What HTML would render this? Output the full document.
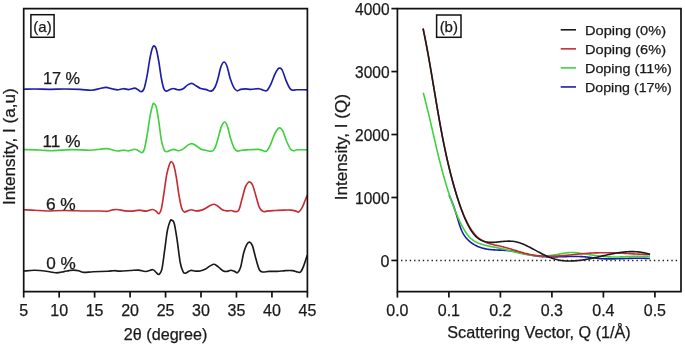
<!DOCTYPE html><html><head><meta charset="utf-8"><style>html,body{margin:0;padding:0;background:#fff;}svg{display:block;font-family:"Liberation Sans",sans-serif;will-change:transform;} text{stroke:#1a1a1a;stroke-width:0.25px;}</style></head><body>
<svg width="685" height="344" viewBox="0 0 685 344">
<rect width="685" height="344" fill="#fff"/>
<path d="M24.00,89.20 C25.83,89.17 30.67,88.98 35.00,89.00 C39.33,89.02 45.00,89.30 50.00,89.30 C55.00,89.30 60.00,88.98 65.00,89.00 C70.00,89.02 75.58,89.20 80.00,89.40 C84.42,89.60 88.17,90.35 91.50,90.20 C94.83,90.05 97.58,88.97 100.00,88.50 C102.42,88.03 104.00,87.35 106.00,87.40 C108.00,87.45 110.07,88.40 112.00,88.80 C113.93,89.20 115.73,89.82 117.60,89.80 C119.47,89.78 121.32,88.73 123.20,88.70 C125.08,88.67 127.00,89.70 128.90,89.60 C130.80,89.50 133.08,88.07 134.60,88.10 C136.12,88.13 136.90,89.20 138.00,89.80 C139.10,90.40 140.20,91.85 141.20,91.70 C142.20,91.55 143.05,91.42 144.00,88.90 C144.95,86.38 145.95,81.48 146.90,76.60 C147.85,71.72 148.85,64.17 149.70,59.60 C150.55,55.03 151.30,51.50 152.00,49.20 C152.70,46.90 153.18,45.80 153.90,45.80 C154.62,45.80 155.48,46.58 156.30,49.20 C157.12,51.82 157.95,56.62 158.80,61.50 C159.65,66.38 160.55,73.93 161.40,78.50 C162.25,83.07 163.08,86.80 163.90,88.90 C164.72,91.00 165.37,90.95 166.30,91.10 C167.23,91.25 168.33,90.23 169.50,89.80 C170.67,89.37 171.88,88.50 173.30,88.50 C174.72,88.50 176.42,89.73 178.00,89.80 C179.58,89.87 181.22,89.68 182.80,88.90 C184.38,88.12 186.02,86.02 187.50,85.10 C188.98,84.18 190.28,83.30 191.70,83.40 C193.12,83.50 194.50,84.85 196.00,85.70 C197.50,86.55 199.08,87.88 200.70,88.50 C202.32,89.12 203.93,88.97 205.70,89.40 C207.47,89.83 209.73,91.50 211.30,91.10 C212.87,90.70 213.98,89.10 215.10,87.00 C216.22,84.90 217.05,81.82 218.00,78.50 C218.95,75.18 219.80,69.85 220.80,67.10 C221.80,64.35 222.97,62.15 224.00,62.00 C225.03,61.85 225.97,63.45 227.00,66.20 C228.03,68.95 229.03,74.88 230.20,78.50 C231.37,82.12 232.83,85.85 234.00,87.90 C235.17,89.95 236.10,90.55 237.20,90.80 C238.30,91.05 239.23,89.72 240.60,89.40 C241.97,89.08 243.67,88.90 245.40,88.90 C247.13,88.90 248.80,89.43 251.00,89.40 C253.20,89.37 256.55,88.57 258.60,88.70 C260.65,88.83 261.88,89.92 263.30,90.20 C264.72,90.48 265.83,91.42 267.10,90.40 C268.37,89.38 269.63,86.72 270.90,84.10 C272.17,81.48 273.53,77.22 274.70,74.70 C275.87,72.18 277.05,70.10 277.90,69.00 C278.75,67.90 279.08,67.93 279.80,68.10 C280.52,68.27 281.17,67.95 282.20,70.00 C283.23,72.05 284.73,77.35 286.00,80.40 C287.27,83.45 288.70,86.67 289.80,88.30 C290.90,89.93 291.50,89.95 292.60,90.20 C293.70,90.45 294.08,89.87 296.40,89.80 C298.72,89.73 304.82,89.80 306.50,89.80" fill="none" stroke="#1c1ca8" stroke-width="1.65" stroke-linejoin="round" stroke-linecap="round"/>
<path d="M24.00,149.60 C26.67,149.67 35.32,149.82 40.00,150.00 C44.68,150.18 46.93,150.77 52.10,150.70 C57.27,150.63 64.68,149.68 71.00,149.60 C77.32,149.52 85.17,150.27 90.00,150.20 C94.83,150.13 97.18,149.47 100.00,149.20 C102.82,148.93 104.90,148.50 106.90,148.60 C108.90,148.70 110.22,149.40 112.00,149.80 C113.78,150.20 115.73,150.93 117.60,151.00 C119.47,151.07 121.32,150.23 123.20,150.20 C125.08,150.17 127.00,150.95 128.90,150.80 C130.80,150.65 133.08,149.37 134.60,149.30 C136.12,149.23 136.80,149.83 138.00,150.40 C139.20,150.97 140.73,152.95 141.80,152.70 C142.87,152.45 143.50,151.90 144.40,148.90 C145.30,145.90 146.25,140.22 147.20,134.70 C148.15,129.18 149.22,120.68 150.10,115.80 C150.98,110.92 151.85,107.45 152.50,105.40 C153.15,103.35 153.37,103.18 154.00,103.50 C154.63,103.82 155.50,104.30 156.30,107.30 C157.10,110.30 157.95,115.98 158.80,121.50 C159.65,127.02 160.48,135.62 161.40,140.40 C162.32,145.18 163.42,148.32 164.30,150.20 C165.18,152.08 165.73,151.67 166.70,151.70 C167.67,151.73 168.90,150.78 170.10,150.40 C171.30,150.02 172.52,149.33 173.90,149.40 C175.28,149.47 176.83,150.88 178.40,150.80 C179.97,150.72 181.72,149.85 183.30,148.90 C184.88,147.95 186.47,145.98 187.90,145.10 C189.33,144.22 190.55,143.50 191.90,143.60 C193.25,143.70 194.47,144.75 196.00,145.70 C197.53,146.65 199.48,148.55 201.10,149.30 C202.72,150.05 203.93,149.87 205.70,150.20 C207.47,150.53 210.13,151.73 211.70,151.30 C213.27,150.87 214.05,149.73 215.10,147.60 C216.15,145.47 216.98,141.92 218.00,138.50 C219.02,135.08 220.10,129.85 221.20,127.10 C222.30,124.35 223.57,122.15 224.60,122.00 C225.63,121.85 226.40,123.45 227.40,126.20 C228.40,128.95 229.43,134.78 230.60,138.50 C231.77,142.22 233.20,146.40 234.40,148.50 C235.60,150.60 236.60,150.82 237.80,151.10 C239.00,151.38 239.72,150.42 241.60,150.20 C243.48,149.98 246.27,149.93 249.10,149.80 C251.93,149.67 256.23,149.23 258.60,149.40 C260.97,149.57 261.98,150.52 263.30,150.80 C264.62,151.08 265.33,152.05 266.50,151.10 C267.67,150.15 268.93,147.98 270.30,145.10 C271.67,142.22 273.40,136.55 274.70,133.80 C276.00,131.05 277.17,129.55 278.10,128.60 C279.03,127.65 279.52,127.72 280.30,128.10 C281.08,128.48 281.75,128.70 282.80,130.90 C283.85,133.10 285.33,138.30 286.60,141.30 C287.87,144.30 289.23,147.32 290.40,148.90 C291.57,150.48 292.43,150.65 293.60,150.80 C294.77,150.95 295.25,149.97 297.40,149.80 C299.55,149.63 304.98,149.80 306.50,149.80" fill="none" stroke="#3fd13f" stroke-width="1.65" stroke-linejoin="round" stroke-linecap="round"/>
<path d="M24.00,209.80 C25.83,209.87 31.28,210.00 35.00,210.20 C38.72,210.40 41.50,210.95 46.30,211.00 C51.10,211.05 57.23,210.50 63.80,210.50 C70.37,210.50 79.67,210.92 85.70,211.00 C91.73,211.08 96.35,210.95 100.00,211.00 C103.65,211.05 105.60,211.47 107.60,211.30 C109.60,211.13 110.43,210.30 112.00,210.00 C113.57,209.70 114.82,209.35 117.00,209.50 C119.18,209.65 122.48,210.63 125.10,210.90 C127.72,211.17 130.33,211.23 132.70,211.10 C135.07,210.97 137.10,210.10 139.30,210.10 C141.50,210.10 143.70,211.20 145.90,211.10 C148.10,211.00 150.77,209.45 152.50,209.50 C154.23,209.55 155.25,210.70 156.30,211.40 C157.35,212.10 157.95,214.17 158.80,213.70 C159.65,213.23 160.55,211.97 161.40,208.60 C162.25,205.23 163.02,199.17 163.90,193.50 C164.78,187.83 165.77,179.48 166.70,174.60 C167.63,169.72 168.72,166.35 169.50,164.20 C170.28,162.05 170.70,161.55 171.40,161.70 C172.10,161.85 172.85,162.32 173.70,165.10 C174.55,167.88 175.62,173.35 176.50,178.40 C177.38,183.45 178.12,190.37 179.00,195.40 C179.88,200.43 180.92,205.83 181.80,208.60 C182.68,211.37 183.35,211.62 184.30,212.00 C185.25,212.38 186.33,211.28 187.50,210.90 C188.67,210.52 189.88,209.70 191.30,209.70 C192.72,209.70 194.27,210.83 196.00,210.90 C197.73,210.97 200.08,210.55 201.70,210.10 C203.32,209.65 204.25,208.98 205.70,208.20 C207.15,207.42 208.98,206.05 210.40,205.40 C211.82,204.75 212.93,204.15 214.20,204.30 C215.47,204.45 216.58,205.33 218.00,206.30 C219.42,207.27 221.13,209.33 222.70,210.10 C224.27,210.87 225.98,210.83 227.40,210.90 C228.82,210.97 229.93,210.38 231.20,210.50 C232.47,210.62 233.73,211.67 235.00,211.60 C236.27,211.53 237.63,212.18 238.80,210.10 C239.97,208.02 240.90,202.97 242.00,199.10 C243.10,195.23 244.37,189.67 245.40,186.90 C246.43,184.13 247.42,183.30 248.20,182.50 C248.98,181.70 249.37,181.68 250.10,182.10 C250.83,182.52 251.65,182.78 252.60,185.00 C253.55,187.22 254.65,191.62 255.80,195.40 C256.95,199.18 258.25,205.00 259.50,207.70 C260.75,210.40 261.87,211.07 263.30,211.60 C264.73,212.13 266.05,211.08 268.10,210.90 C270.15,210.72 273.08,210.63 275.60,210.50 C278.12,210.37 280.68,210.17 283.20,210.10 C285.72,210.03 288.65,209.97 290.70,210.10 C292.75,210.23 294.17,210.58 295.50,210.90 C296.83,211.22 297.60,212.53 298.70,212.00 C299.80,211.47 301.07,209.53 302.10,207.70 C303.13,205.87 304.05,203.05 304.90,201.00 C305.75,198.95 306.82,196.33 307.20,195.40" fill="none" stroke="#c62d33" stroke-width="1.65" stroke-linejoin="round" stroke-linecap="round"/>
<path d="M24.00,271.00 C25.77,270.88 30.88,270.25 34.60,270.30 C38.32,270.35 42.77,270.88 46.30,271.30 C49.83,271.72 52.85,272.75 55.80,272.80 C58.75,272.85 61.80,271.97 64.00,271.60 C66.20,271.23 67.42,270.85 69.00,270.60 C70.58,270.35 71.92,270.08 73.50,270.10 C75.08,270.12 76.72,270.32 78.50,270.70 C80.28,271.08 81.78,272.23 84.20,272.40 C86.62,272.57 89.10,271.88 93.00,271.70 C96.90,271.52 104.10,271.47 107.60,271.30 C111.10,271.13 111.90,270.73 114.00,270.70 C116.10,270.67 117.47,271.13 120.20,271.10 C122.93,271.07 127.35,270.67 130.40,270.50 C133.45,270.33 135.97,269.93 138.50,270.10 C141.03,270.27 143.22,271.57 145.60,271.50 C147.98,271.43 151.10,269.60 152.80,269.70 C154.50,269.80 154.78,271.32 155.80,272.10 C156.82,272.88 157.88,274.90 158.90,274.40 C159.92,273.90 160.95,273.05 161.90,269.10 C162.85,265.15 163.68,257.15 164.60,250.70 C165.52,244.25 166.48,235.32 167.40,230.40 C168.32,225.48 169.38,222.90 170.10,221.20 C170.82,219.50 171.02,219.87 171.70,220.20 C172.38,220.53 173.28,219.82 174.20,223.20 C175.12,226.58 176.18,233.87 177.20,240.50 C178.22,247.13 179.28,257.73 180.30,263.00 C181.32,268.27 182.38,270.42 183.30,272.10 C184.22,273.78 184.62,273.37 185.80,273.10 C186.98,272.83 188.78,270.83 190.40,270.50 C192.02,270.17 193.90,271.02 195.50,271.10 C197.10,271.18 198.40,271.30 200.00,271.00 C201.60,270.70 203.40,270.15 205.10,269.30 C206.80,268.45 208.68,266.73 210.20,265.90 C211.72,265.07 212.85,264.13 214.20,264.30 C215.55,264.47 216.77,265.78 218.30,266.90 C219.83,268.02 221.88,270.25 223.40,271.00 C224.92,271.75 226.15,271.53 227.40,271.40 C228.65,271.27 229.70,270.20 230.90,270.20 C232.10,270.20 233.48,271.00 234.60,271.40 C235.72,271.80 236.58,273.35 237.60,272.60 C238.62,271.85 239.68,270.22 240.70,266.90 C241.72,263.58 242.70,256.42 243.70,252.70 C244.70,248.98 245.75,246.37 246.70,244.60 C247.65,242.83 248.45,241.93 249.40,242.10 C250.35,242.27 251.32,242.82 252.40,245.60 C253.48,248.38 254.75,254.80 255.90,258.80 C257.05,262.80 258.18,267.40 259.30,269.60 C260.42,271.80 260.97,271.70 262.60,272.00 C264.23,272.30 266.67,271.50 269.10,271.40 C271.53,271.30 274.48,271.53 277.20,271.40 C279.92,271.27 282.85,270.73 285.40,270.60 C287.95,270.47 290.47,270.37 292.50,270.60 C294.53,270.83 296.25,271.77 297.60,272.00 C298.95,272.23 299.58,273.02 300.60,272.00 C301.62,270.98 302.62,268.62 303.70,265.90 C304.78,263.18 306.53,257.40 307.10,255.70" fill="none" stroke="#1a1a1a" stroke-width="1.65" stroke-linejoin="round" stroke-linecap="round"/>
<path d="M23.70,8.70 H307.40 V291.60 H23.70 Z" fill="none" stroke="#111" stroke-width="1.70"/>
<line x1="23.70" y1="291.60" x2="23.70" y2="297.60" stroke="#111" stroke-width="1.70"/>
<text x="23.70" y="315.60" font-size="16.00" text-anchor="middle" fill="#1a1a1a" >5</text>
<line x1="59.16" y1="291.60" x2="59.16" y2="297.60" stroke="#111" stroke-width="1.70"/>
<text x="59.16" y="315.60" font-size="16.00" text-anchor="middle" fill="#1a1a1a" >10</text>
<line x1="94.62" y1="291.60" x2="94.62" y2="297.60" stroke="#111" stroke-width="1.70"/>
<text x="94.62" y="315.60" font-size="16.00" text-anchor="middle" fill="#1a1a1a" >15</text>
<line x1="130.09" y1="291.60" x2="130.09" y2="297.60" stroke="#111" stroke-width="1.70"/>
<text x="130.09" y="315.60" font-size="16.00" text-anchor="middle" fill="#1a1a1a" >20</text>
<line x1="165.55" y1="291.60" x2="165.55" y2="297.60" stroke="#111" stroke-width="1.70"/>
<text x="165.55" y="315.60" font-size="16.00" text-anchor="middle" fill="#1a1a1a" >25</text>
<line x1="201.01" y1="291.60" x2="201.01" y2="297.60" stroke="#111" stroke-width="1.70"/>
<text x="201.01" y="315.60" font-size="16.00" text-anchor="middle" fill="#1a1a1a" >30</text>
<line x1="236.47" y1="291.60" x2="236.47" y2="297.60" stroke="#111" stroke-width="1.70"/>
<text x="236.47" y="315.60" font-size="16.00" text-anchor="middle" fill="#1a1a1a" >35</text>
<line x1="271.94" y1="291.60" x2="271.94" y2="297.60" stroke="#111" stroke-width="1.70"/>
<text x="271.94" y="315.60" font-size="16.00" text-anchor="middle" fill="#1a1a1a" >40</text>
<line x1="307.40" y1="291.60" x2="307.40" y2="297.60" stroke="#111" stroke-width="1.70"/>
<text x="307.40" y="315.60" font-size="16.00" text-anchor="middle" fill="#1a1a1a" >45</text>
<rect x="30.90" y="14.70" width="23.20" height="22.60" fill="none" stroke="#111" stroke-width="1.50"/>
<text x="42.50" y="31.60" font-size="15.00" text-anchor="middle" fill="#1a1a1a" >(a)</text>
<text x="42.90" y="83.60" font-size="15.80" text-anchor="start" fill="#1a1a1a" textLength="37.20" lengthAdjust="spacingAndGlyphs" >17 %</text>
<text x="42.60" y="147.40" font-size="15.80" text-anchor="start" fill="#1a1a1a" textLength="37.80" lengthAdjust="spacingAndGlyphs" >11 %</text>
<text x="45.90" y="209.80" font-size="15.80" text-anchor="start" fill="#1a1a1a" textLength="29.90" lengthAdjust="spacingAndGlyphs" >6 %</text>
<text x="46.20" y="268.60" font-size="15.80" text-anchor="start" fill="#1a1a1a" textLength="29.60" lengthAdjust="spacingAndGlyphs" >0 %</text>
<text x="165.60" y="339.60" font-size="16.00" text-anchor="middle" fill="#1a1a1a" textLength="83.50" lengthAdjust="spacingAndGlyphs" >2θ (degree)</text>
<text x="0" y="0" font-size="16.50" text-anchor="middle" fill="#1a1a1a" textLength="116.70" lengthAdjust="spacingAndGlyphs" transform="translate(15.40,146.60) rotate(-90)">Intensity, I (a,u)</text>
<line x1="401.00" y1="260.45" x2="680.00" y2="260.45" stroke="#222" stroke-width="1.50" stroke-dasharray="1.4 2.96"/>
<path d="M449.06,195.10 L449.31,195.63 L449.56,196.17 L449.80,196.70 L450.04,197.23 L450.28,197.77 L450.51,198.30 L450.74,198.84 L450.97,199.37 L451.19,199.91 L451.41,200.44 L451.63,200.98 L451.85,201.51 L452.06,202.05 L452.27,202.59 L452.48,203.13 L452.69,203.67 L452.89,204.21 L453.10,204.75 L453.30,205.29 L453.49,205.84 L453.69,206.38 L453.88,206.93 L454.07,207.47 L454.26,208.02 L454.45,208.57 L454.64,209.12 L454.83,209.67 L455.01,210.23 L455.19,210.78 L455.37,211.33 L455.55,211.89 L455.73,212.45 L455.91,213.01 L456.09,213.57 L456.27,214.13 L456.44,214.70 L456.62,215.26 L456.79,215.83 L456.96,216.40 L457.14,216.97 L457.31,217.54 L457.48,218.12 L457.65,218.70 L457.83,219.27 L458.00,219.85 L458.17,220.44 L458.34,221.02 L458.52,221.60 L458.69,222.19 L458.87,222.77 L459.05,223.35 L459.23,223.94 L459.42,224.52 L459.60,225.10 L459.79,225.68 L459.99,226.25 L460.19,226.83 L460.39,227.40 L460.60,227.97 L460.82,228.53 L461.04,229.09 L461.27,229.65 L461.50,230.20 L461.74,230.74 L461.99,231.28 L462.24,231.82 L462.50,232.35 L462.77,232.87 L463.05,233.39 L463.34,233.89 L463.64,234.40 L463.94,234.89 L464.26,235.37 L464.58,235.85 L464.92,236.32 L465.26,236.78 L465.61,237.24 L465.97,237.68 L466.34,238.12 L466.72,238.55 L467.11,238.97 L467.50,239.39 L467.90,239.79 L468.31,240.19 L468.73,240.58 L469.15,240.96 L469.58,241.33 L470.02,241.70 L470.46,242.06 L470.91,242.41 L471.37,242.75 L471.83,243.08 L472.30,243.41 L472.78,243.72 L473.26,244.03 L473.75,244.33 L474.24,244.63 L474.74,244.91 L475.24,245.19 L475.75,245.45 L476.26,245.71 L476.78,245.97 L477.30,246.21 L477.83,246.45 L478.36,246.67 L478.89,246.89 L479.43,247.10 L479.97,247.30 L480.52,247.50 L481.07,247.68 L481.62,247.86 L482.17,248.03 L482.73,248.19 L483.29,248.34 L483.85,248.49 L484.42,248.62 L484.99,248.75 L485.56,248.87 L486.13,248.98 L486.70,249.08 L487.27,249.18 L487.85,249.27 L488.43,249.35 L489.01,249.43 L489.59,249.50 L490.17,249.56 L490.75,249.62 L491.34,249.68 L491.92,249.73 L492.51,249.77 L493.10,249.82 L493.69,249.85 L494.28,249.89 L494.87,249.92 L495.46,249.95 L496.05,249.98 L496.64,250.01 L497.24,250.03 L497.83,250.05 L498.42,250.08 L499.02,250.10 L499.61,250.12 L500.21,250.14 L500.80,250.16 L501.40,250.19 L501.99,250.21 L502.58,250.24 L503.18,250.27 L503.77,250.30 L504.36,250.33 L504.95,250.37 L505.55,250.41 L506.14,250.45 L506.73,250.50 L507.32,250.55 L507.90,250.61 L508.49,250.67 L509.08,250.73 L509.66,250.81 L510.25,250.88 L510.83,250.96 L511.41,251.05 L512.00,251.14 L512.58,251.23 L513.16,251.33 L513.74,251.43 L514.32,251.53 L514.89,251.64 L515.47,251.75 L516.05,251.86 L516.63,251.98 L517.20,252.10 L517.78,252.22 L518.35,252.34 L518.93,252.46 L519.50,252.59 L520.07,252.71 L520.65,252.84 L521.22,252.97 L521.79,253.10 L522.36,253.23 L522.94,253.36 L523.51,253.49 L524.08,253.62 L524.65,253.75 L525.22,253.88 L525.80,254.01 L526.37,254.14 L526.94,254.26 L527.51,254.39 L528.08,254.52 L528.65,254.64 L529.23,254.76 L529.80,254.88 L530.37,254.99 L530.94,255.11 L531.52,255.22 L532.09,255.33 L532.66,255.43 L533.24,255.54 L533.81,255.64 L534.39,255.73 L534.96,255.82 L535.54,255.91 L536.12,255.99 L536.69,256.07 L537.27,256.14 L537.85,256.21 L538.43,256.28 L539.01,256.34 L539.59,256.40 L540.17,256.46 L540.75,256.51 L541.33,256.56 L541.91,256.60 L542.49,256.64 L543.08,256.68 L543.66,256.71 L544.24,256.74 L544.83,256.77 L545.41,256.80 L546.00,256.82 L546.58,256.84 L547.17,256.86 L547.75,256.87 L548.34,256.89 L548.92,256.90 L549.51,256.90 L550.10,256.91 L550.68,256.91 L551.27,256.92 L551.86,256.92 L552.45,256.91 L553.04,256.91 L553.62,256.91 L554.21,256.90 L554.80,256.89 L555.39,256.88 L555.98,256.87 L556.57,256.86 L557.16,256.85 L557.75,256.84 L558.34,256.82 L558.93,256.81 L559.52,256.79 L560.11,256.77 L560.70,256.76 L561.29,256.74 L561.88,256.72 L562.47,256.71 L563.06,256.69 L563.65,256.67 L564.24,256.65 L564.83,256.64 L565.42,256.62 L566.02,256.60 L566.61,256.59 L567.20,256.57 L567.79,256.56 L568.38,256.54 L568.97,256.53 L569.56,256.52 L570.15,256.51 L570.74,256.50 L571.33,256.49 L571.92,256.48 L572.51,256.47 L573.10,256.47 L573.69,256.47 L574.28,256.46 L574.87,256.46 L575.45,256.47 L576.04,256.47 L576.63,256.48 L577.22,256.49 L577.81,256.50 L578.40,256.51 L578.98,256.53 L579.57,256.54 L580.16,256.56 L580.74,256.59 L581.33,256.61 L581.92,256.64 L582.50,256.67 L583.09,256.71 L583.67,256.75 L584.26,256.79 L584.84,256.83 L585.42,256.88 L586.01,256.94 L586.59,256.99 L587.17,257.05 L587.76,257.11 L588.34,257.18 L588.92,257.25 L589.50,257.32 L590.08,257.39 L590.66,257.46 L591.24,257.54 L591.82,257.61 L592.40,257.69 L592.98,257.77 L593.56,257.84 L594.14,257.92 L594.73,258.00 L595.31,258.07 L595.89,258.14 L596.47,258.21 L597.05,258.28 L597.63,258.35 L598.21,258.41 L598.79,258.47 L599.38,258.53 L599.96,258.58 L600.54,258.63 L601.13,258.67 L601.71,258.71 L602.30,258.74 L602.88,258.78 L603.47,258.80 L604.05,258.83 L604.64,258.85 L605.23,258.86 L605.81,258.88 L606.40,258.89 L606.99,258.90 L607.57,258.90 L608.16,258.90 L608.75,258.91 L609.34,258.90 L609.93,258.90 L610.51,258.90 L611.10,258.89 L611.69,258.89 L612.28,258.88 L612.87,258.87 L613.46,258.86 L614.04,258.85 L614.63,258.84 L615.22,258.82 L615.81,258.81 L616.40,258.79 L616.99,258.78 L617.58,258.76 L618.17,258.75 L618.75,258.73 L619.34,258.71 L619.93,258.69 L620.52,258.67 L621.11,258.66 L621.70,258.64 L622.29,258.62 L622.88,258.60 L623.46,258.58 L624.05,258.56 L624.64,258.54 L625.23,258.52 L625.82,258.50 L626.41,258.48 L627.00,258.46 L627.58,258.45 L628.17,258.43 L628.76,258.41 L629.35,258.39 L629.94,258.38 L630.53,258.36 L631.11,258.35 L631.70,258.33 L632.29,258.32 L632.88,258.31 L633.47,258.30 L634.06,258.29 L634.64,258.28 L635.23,258.27 L635.82,258.26 L636.41,258.25 L636.99,258.25 L637.58,258.25 L638.17,258.24 L638.76,258.24 L639.34,258.24 L639.93,258.25 L640.52,258.25 L641.10,258.26 L641.69,258.26 L642.28,258.27 L642.86,258.28 L643.45,258.30 L644.04,258.31 L644.62,258.33 L645.21,258.35 L645.80,258.37 L646.38,258.39 L646.97,258.42 L647.55,258.45 L648.14,258.48 L648.72,258.51 L649.31,258.55 L649.89,258.58" fill="none" stroke="#1c1ca8" stroke-width="1.60" stroke-linejoin="round" stroke-linecap="butt"/>
<path d="M423.25,92.70 L423.47,93.51 L423.69,94.33 L423.91,95.15 L424.12,95.97 L424.34,96.79 L424.55,97.61 L424.76,98.43 L424.98,99.25 L425.19,100.07 L425.40,100.89 L425.61,101.71 L425.81,102.53 L426.02,103.35 L426.23,104.17 L426.43,104.99 L426.64,105.81 L426.84,106.64 L427.04,107.46 L427.24,108.28 L427.44,109.10 L427.64,109.92 L427.84,110.75 L428.04,111.57 L428.24,112.39 L428.44,113.22 L428.63,114.04 L428.83,114.86 L429.02,115.69 L429.22,116.51 L429.41,117.33 L429.61,118.16 L429.80,118.98 L429.99,119.80 L430.18,120.63 L430.38,121.45 L430.57,122.28 L430.76,123.10 L430.95,123.92 L431.14,124.75 L431.33,125.57 L431.52,126.40 L431.71,127.22 L431.90,128.05 L432.09,128.87 L432.28,129.69 L432.47,130.52 L432.66,131.34 L432.85,132.17 L433.04,132.99 L433.22,133.81 L433.41,134.64 L433.60,135.46 L433.79,136.29 L433.98,137.11 L434.17,137.93 L434.36,138.76 L434.55,139.58 L434.74,140.40 L434.93,141.23 L435.12,142.05 L435.31,142.87 L435.51,143.70 L435.70,144.52 L435.89,145.34 L436.08,146.16 L436.27,146.99 L436.47,147.81 L436.66,148.63 L436.86,149.45 L437.05,150.27 L437.25,151.10 L437.44,151.92 L437.64,152.74 L437.84,153.56 L438.04,154.38 L438.23,155.20 L438.43,156.02 L438.63,156.84 L438.84,157.66 L439.04,158.48 L439.24,159.30 L439.44,160.12 L439.65,160.93 L439.85,161.75 L440.06,162.57 L440.27,163.39 L440.48,164.21 L440.69,165.02 L440.90,165.84 L441.11,166.66 L441.32,167.47 L441.54,168.29 L441.75,169.10 L441.97,169.92 L442.18,170.73 L442.40,171.55 L442.62,172.36 L442.84,173.17 L443.07,173.99 L443.29,174.80 L443.52,175.61 L443.74,176.42 L443.97,177.23 L444.20,178.04 L444.43,178.85 L444.67,179.66 L444.90,180.47 L445.14,181.28 L445.37,182.09 L445.61,182.90 L445.85,183.71 L446.10,184.51 L446.34,185.32 L446.59,186.13 L446.83,186.93 L447.08,187.74 L447.33,188.54 L447.59,189.35 L447.84,190.15 L448.10,190.95 L448.36,191.76 L448.62,192.56 L448.88,193.36 L449.15,194.16 L449.41,194.96 L449.68,195.76 L449.95,196.56 L450.22,197.36 L450.50,198.15 L450.78,198.95 L451.06,199.75 L451.34,200.54 L451.62,201.34 L451.91,202.13 L452.20,202.93 L452.49,203.72 L452.78,204.51 L453.08,205.30 L453.37,206.10 L453.67,206.89 L453.98,207.68 L454.28,208.46 L454.59,209.25 L454.90,210.04 L455.21,210.83 L455.53,211.61 L455.85,212.40 L456.17,213.18 L456.49,213.97 L456.82,214.75 L457.15,215.53 L457.48,216.31 L457.82,217.09 L458.16,217.87 L458.51,218.65 L458.86,219.42 L459.21,220.20 L459.57,220.97 L459.94,221.74 L460.31,222.51 L460.68,223.28 L461.06,224.05 L461.45,224.81 L461.85,225.57 L462.25,226.33 L462.66,227.09 L463.08,227.84 L463.50,228.59 L463.93,229.34 L464.37,230.09 L464.82,230.83 L465.28,231.57 L465.75,232.30 L466.23,233.02 L466.72,233.73 L467.22,234.43 L467.73,235.11 L468.26,235.77 L468.81,236.41 L469.36,237.03 L469.94,237.63 L470.53,238.20 L471.14,238.74 L471.76,239.26 L472.40,239.75 L473.05,240.22 L473.71,240.67 L474.39,241.09 L475.09,241.49 L475.79,241.88 L476.51,242.24 L477.24,242.59 L477.98,242.92 L478.73,243.23 L479.49,243.53 L480.26,243.81 L481.04,244.08 L481.82,244.33 L482.62,244.58 L483.42,244.81 L484.23,245.03 L485.05,245.24 L485.87,245.44 L486.69,245.64 L487.52,245.82 L488.36,246.00 L489.20,246.18 L490.04,246.35 L490.88,246.52 L491.73,246.68 L492.58,246.84 L493.43,247.00 L494.28,247.16 L495.13,247.33 L495.98,247.49 L496.82,247.65 L497.67,247.82 L498.52,248.00 L499.36,248.17 L500.20,248.36 L501.03,248.54 L501.87,248.73 L502.70,248.93 L503.53,249.13 L504.36,249.33 L505.19,249.53 L506.01,249.74 L506.84,249.94 L507.66,250.15 L508.48,250.36 L509.30,250.58 L510.12,250.79 L510.93,251.00 L511.75,251.21 L512.57,251.42 L513.38,251.63 L514.20,251.84 L515.01,252.05 L515.83,252.25 L516.64,252.45 L517.46,252.65 L518.27,252.85 L519.09,253.04 L519.91,253.23 L520.72,253.42 L521.54,253.59 L522.36,253.77 L523.18,253.94 L524.00,254.10 L524.82,254.26 L525.65,254.41 L526.47,254.55 L527.30,254.69 L528.13,254.82 L528.95,254.95 L529.79,255.06 L530.62,255.17 L531.45,255.27 L532.28,255.37 L533.12,255.46 L533.95,255.54 L534.79,255.61 L535.63,255.67 L536.46,255.73 L537.30,255.78 L538.14,255.82 L538.98,255.86 L539.82,255.88 L540.66,255.90 L541.50,255.91 L542.34,255.91 L543.18,255.91 L544.02,255.89 L544.86,255.87 L545.71,255.84 L546.55,255.80 L547.39,255.75 L548.23,255.69 L549.07,255.63 L549.91,255.55 L550.75,255.47 L551.59,255.37 L552.42,255.27 L553.26,255.16 L554.10,255.04 L554.94,254.91 L555.77,254.77 L556.61,254.62 L557.44,254.47 L558.28,254.31 L559.11,254.15 L559.94,253.99 L560.77,253.83 L561.61,253.67 L562.44,253.51 L563.27,253.36 L564.10,253.22 L564.93,253.08 L565.77,252.95 L566.60,252.84 L567.43,252.74 L568.26,252.65 L569.10,252.59 L569.93,252.53 L570.76,252.50 L571.60,252.49 L572.43,252.50 L573.27,252.53 L574.11,252.57 L574.94,252.63 L575.78,252.70 L576.62,252.79 L577.46,252.88 L578.29,252.99 L579.13,253.10 L579.97,253.21 L580.81,253.33 L581.64,253.45 L582.48,253.57 L583.32,253.70 L584.16,253.83 L585.00,253.95 L585.83,254.08 L586.67,254.21 L587.51,254.33 L588.34,254.46 L589.18,254.59 L590.02,254.71 L590.86,254.84 L591.70,254.96 L592.53,255.09 L593.37,255.21 L594.21,255.33 L595.05,255.45 L595.88,255.56 L596.72,255.67 L597.56,255.78 L598.40,255.89 L599.24,255.99 L600.08,256.09 L600.92,256.19 L601.76,256.28 L602.60,256.37 L603.44,256.45 L604.28,256.53 L605.12,256.60 L605.96,256.67 L606.80,256.73 L607.64,256.79 L608.48,256.84 L609.32,256.88 L610.17,256.92 L611.01,256.95 L611.85,256.97 L612.70,256.99 L613.54,257.00 L614.39,257.01 L615.23,257.01 L616.08,257.00 L616.92,256.99 L617.77,256.98 L618.61,256.96 L619.46,256.93 L620.30,256.91 L621.15,256.88 L622.00,256.85 L622.84,256.81 L623.69,256.78 L624.54,256.74 L625.38,256.70 L626.23,256.66 L627.08,256.62 L627.93,256.58 L628.77,256.54 L629.62,256.50 L630.47,256.46 L631.31,256.42 L632.16,256.39 L633.01,256.35 L633.85,256.32 L634.70,256.29 L635.55,256.26 L636.39,256.24 L637.24,256.22 L638.09,256.21 L638.93,256.20 L639.78,256.19 L640.62,256.19 L641.47,256.19 L642.31,256.20 L643.16,256.22 L644.00,256.24 L644.84,256.27 L645.69,256.31 L646.53,256.35 L647.37,256.40 L648.21,256.46 L649.05,256.53 L649.89,256.61" fill="none" stroke="#3fd13f" stroke-width="1.60" stroke-linejoin="round" stroke-linecap="butt"/>
<path d="M423.08,28.54 L423.28,29.50 L423.48,30.46 L423.68,31.42 L423.88,32.38 L424.07,33.34 L424.27,34.31 L424.46,35.27 L424.65,36.23 L424.85,37.20 L425.04,38.16 L425.23,39.12 L425.41,40.09 L425.60,41.05 L425.79,42.02 L425.97,42.98 L426.16,43.95 L426.34,44.92 L426.52,45.88 L426.71,46.85 L426.89,47.82 L427.07,48.79 L427.25,49.75 L427.42,50.72 L427.60,51.69 L427.78,52.66 L427.95,53.63 L428.13,54.60 L428.30,55.57 L428.48,56.54 L428.65,57.51 L428.82,58.48 L429.00,59.45 L429.17,60.42 L429.34,61.39 L429.51,62.36 L429.68,63.33 L429.85,64.30 L430.02,65.28 L430.19,66.25 L430.35,67.22 L430.52,68.19 L430.69,69.17 L430.85,70.14 L431.02,71.11 L431.19,72.09 L431.35,73.06 L431.52,74.03 L431.68,75.01 L431.85,75.98 L432.01,76.95 L432.18,77.93 L432.34,78.90 L432.50,79.88 L432.67,80.85 L432.83,81.82 L432.99,82.80 L433.16,83.77 L433.32,84.75 L433.48,85.72 L433.65,86.70 L433.81,87.67 L433.97,88.65 L434.14,89.62 L434.30,90.60 L434.46,91.57 L434.63,92.55 L434.79,93.52 L434.95,94.50 L435.12,95.47 L435.28,96.45 L435.44,97.42 L435.61,98.39 L435.77,99.37 L435.94,100.34 L436.10,101.32 L436.27,102.29 L436.43,103.27 L436.60,104.24 L436.76,105.22 L436.93,106.19 L437.10,107.17 L437.26,108.14 L437.43,109.11 L437.60,110.09 L437.77,111.06 L437.94,112.04 L438.10,113.01 L438.27,113.98 L438.45,114.96 L438.62,115.93 L438.79,116.90 L438.96,117.88 L439.13,118.85 L439.31,119.82 L439.48,120.79 L439.66,121.77 L439.83,122.74 L440.01,123.71 L440.18,124.68 L440.36,125.65 L440.54,126.63 L440.72,127.60 L440.90,128.57 L441.08,129.54 L441.26,130.51 L441.45,131.48 L441.63,132.45 L441.81,133.42 L442.00,134.39 L442.19,135.36 L442.37,136.33 L442.56,137.29 L442.75,138.26 L442.94,139.23 L443.13,140.20 L443.33,141.17 L443.52,142.13 L443.72,143.10 L443.91,144.07 L444.11,145.03 L444.31,146.00 L444.51,146.96 L444.71,147.93 L444.91,148.89 L445.11,149.86 L445.32,150.82 L445.53,151.78 L445.73,152.75 L445.94,153.71 L446.15,154.67 L446.36,155.63 L446.58,156.59 L446.79,157.56 L447.01,158.52 L447.22,159.48 L447.44,160.44 L447.66,161.40 L447.88,162.35 L448.11,163.31 L448.33,164.27 L448.56,165.23 L448.79,166.18 L449.02,167.14 L449.25,168.10 L449.48,169.05 L449.72,170.01 L449.95,170.96 L450.19,171.92 L450.43,172.87 L450.67,173.82 L450.92,174.77 L451.16,175.73 L451.41,176.68 L451.66,177.63 L451.91,178.58 L452.16,179.53 L452.42,180.48 L452.68,181.42 L452.94,182.37 L453.20,183.32 L453.46,184.26 L453.72,185.21 L453.99,186.16 L454.26,187.10 L454.53,188.04 L454.80,188.99 L455.08,189.93 L455.36,190.87 L455.64,191.81 L455.92,192.75 L456.20,193.69 L456.49,194.63 L456.78,195.57 L457.07,196.51 L457.36,197.45 L457.66,198.38 L457.96,199.32 L458.26,200.25 L458.57,201.19 L458.88,202.12 L459.19,203.05 L459.51,203.98 L459.83,204.91 L460.16,205.84 L460.49,206.77 L460.83,207.70 L461.17,208.62 L461.52,209.55 L461.88,210.47 L462.24,211.39 L462.60,212.31 L462.98,213.23 L463.36,214.15 L463.74,215.07 L464.14,215.98 L464.54,216.90 L464.95,217.81 L465.36,218.72 L465.79,219.63 L466.22,220.54 L466.66,221.44 L467.11,222.35 L467.57,223.25 L468.04,224.15 L468.52,225.04 L469.01,225.92 L469.51,226.79 L470.02,227.66 L470.55,228.52 L471.09,229.36 L471.64,230.19 L472.21,231.01 L472.80,231.81 L473.39,232.59 L474.01,233.36 L474.64,234.11 L475.29,234.84 L475.95,235.54 L476.64,236.23 L477.34,236.89 L478.06,237.52 L478.80,238.13 L479.56,238.72 L480.33,239.27 L481.13,239.81 L481.94,240.31 L482.76,240.79 L483.60,241.25 L484.46,241.68 L485.33,242.08 L486.21,242.46 L487.10,242.81 L488.01,243.14 L488.92,243.45 L489.85,243.74 L490.78,244.01 L491.72,244.26 L492.67,244.50 L493.62,244.73 L494.58,244.95 L495.55,245.17 L496.52,245.38 L497.49,245.58 L498.46,245.79 L499.44,246.00 L500.41,246.22 L501.39,246.44 L502.36,246.67 L503.33,246.90 L504.30,247.15 L505.27,247.41 L506.24,247.68 L507.21,247.95 L508.17,248.23 L509.13,248.51 L510.09,248.80 L511.05,249.09 L512.01,249.39 L512.97,249.68 L513.93,249.98 L514.89,250.28 L515.84,250.58 L516.80,250.88 L517.76,251.18 L518.71,251.48 L519.67,251.77 L520.62,252.06 L521.58,252.34 L522.53,252.62 L523.49,252.89 L524.45,253.15 L525.40,253.41 L526.36,253.65 L527.32,253.89 L528.27,254.12 L529.23,254.33 L530.19,254.54 L531.15,254.73 L532.12,254.91 L533.08,255.07 L534.04,255.23 L535.01,255.37 L535.97,255.50 L536.94,255.62 L537.91,255.73 L538.87,255.82 L539.84,255.91 L540.81,255.99 L541.78,256.05 L542.76,256.11 L543.73,256.16 L544.70,256.19 L545.67,256.22 L546.65,256.24 L547.62,256.26 L548.60,256.26 L549.58,256.26 L550.55,256.25 L551.53,256.23 L552.51,256.21 L553.49,256.18 L554.47,256.14 L555.45,256.10 L556.43,256.05 L557.41,256.00 L558.39,255.94 L559.37,255.87 L560.35,255.81 L561.34,255.73 L562.32,255.66 L563.30,255.58 L564.29,255.50 L565.27,255.41 L566.25,255.32 L567.24,255.23 L568.22,255.14 L569.21,255.05 L570.19,254.95 L571.18,254.86 L572.16,254.76 L573.15,254.66 L574.13,254.56 L575.12,254.46 L576.11,254.36 L577.09,254.27 L578.08,254.17 L579.06,254.07 L580.05,253.98 L581.04,253.89 L582.02,253.79 L583.01,253.71 L583.99,253.62 L584.98,253.54 L585.97,253.46 L586.95,253.38 L587.94,253.31 L588.92,253.24 L589.91,253.17 L590.89,253.11 L591.87,253.06 L592.86,253.01 L593.84,252.96 L594.83,252.92 L595.81,252.89 L596.79,252.86 L597.78,252.83 L598.76,252.81 L599.74,252.79 L600.72,252.78 L601.71,252.77 L602.69,252.76 L603.67,252.76 L604.65,252.76 L605.63,252.77 L606.62,252.78 L607.60,252.79 L608.58,252.80 L609.56,252.82 L610.54,252.84 L611.52,252.87 L612.51,252.89 L613.49,252.92 L614.47,252.95 L615.45,252.99 L616.43,253.02 L617.41,253.06 L618.40,253.10 L619.38,253.14 L620.36,253.18 L621.34,253.23 L622.33,253.27 L623.31,253.32 L624.29,253.37 L625.27,253.41 L626.26,253.46 L627.24,253.51 L628.22,253.57 L629.21,253.62 L630.19,253.67 L631.18,253.72 L632.16,253.77 L633.15,253.83 L634.13,253.88 L635.12,253.93 L636.10,253.98 L637.09,254.03 L638.07,254.08 L639.06,254.13 L640.05,254.18 L641.04,254.23 L642.02,254.28 L643.01,254.32 L644.00,254.37 L644.99,254.41 L645.98,254.45 L646.97,254.49 L647.96,254.53 L648.95,254.56 L649.95,254.59" fill="none" stroke="#c62d33" stroke-width="1.60" stroke-linejoin="round" stroke-linecap="butt"/>
<path d="M423.06,28.54 L423.27,29.51 L423.47,30.48 L423.67,31.45 L423.87,32.42 L424.07,33.39 L424.27,34.36 L424.47,35.33 L424.67,36.30 L424.86,37.27 L425.06,38.25 L425.25,39.22 L425.44,40.19 L425.63,41.16 L425.82,42.14 L426.01,43.11 L426.20,44.09 L426.39,45.06 L426.57,46.04 L426.76,47.01 L426.94,47.99 L427.12,48.96 L427.30,49.94 L427.48,50.92 L427.66,51.89 L427.84,52.87 L428.02,53.85 L428.20,54.83 L428.38,55.80 L428.55,56.78 L428.73,57.76 L428.90,58.74 L429.08,59.72 L429.25,60.70 L429.42,61.68 L429.60,62.66 L429.77,63.64 L429.94,64.62 L430.11,65.60 L430.28,66.58 L430.45,67.56 L430.62,68.54 L430.78,69.53 L430.95,70.51 L431.12,71.49 L431.29,72.47 L431.45,73.45 L431.62,74.44 L431.78,75.42 L431.95,76.40 L432.12,77.38 L432.28,78.37 L432.45,79.35 L432.61,80.33 L432.77,81.32 L432.94,82.30 L433.10,83.28 L433.27,84.27 L433.43,85.25 L433.59,86.23 L433.76,87.22 L433.92,88.20 L434.08,89.18 L434.25,90.17 L434.41,91.15 L434.58,92.14 L434.74,93.12 L434.90,94.10 L435.07,95.09 L435.23,96.07 L435.39,97.05 L435.56,98.04 L435.72,99.02 L435.89,100.01 L436.05,100.99 L436.22,101.97 L436.38,102.96 L436.55,103.94 L436.72,104.92 L436.88,105.91 L437.05,106.89 L437.22,107.87 L437.38,108.86 L437.55,109.84 L437.72,110.82 L437.89,111.81 L438.06,112.79 L438.23,113.77 L438.40,114.75 L438.57,115.74 L438.74,116.72 L438.91,117.70 L439.09,118.68 L439.26,119.67 L439.43,120.65 L439.61,121.63 L439.79,122.61 L439.96,123.59 L440.14,124.57 L440.32,125.55 L440.50,126.53 L440.67,127.51 L440.86,128.49 L441.04,129.47 L441.22,130.45 L441.40,131.43 L441.59,132.41 L441.77,133.39 L441.96,134.37 L442.14,135.34 L442.33,136.32 L442.52,137.30 L442.71,138.28 L442.90,139.25 L443.09,140.23 L443.29,141.21 L443.48,142.18 L443.68,143.16 L443.88,144.13 L444.07,145.11 L444.27,146.08 L444.47,147.06 L444.68,148.03 L444.88,149.00 L445.08,149.98 L445.29,150.95 L445.50,151.92 L445.71,152.89 L445.92,153.87 L446.13,154.84 L446.34,155.81 L446.56,156.78 L446.77,157.75 L446.99,158.72 L447.21,159.69 L447.43,160.65 L447.65,161.62 L447.88,162.59 L448.10,163.56 L448.33,164.52 L448.56,165.49 L448.79,166.45 L449.02,167.42 L449.26,168.38 L449.49,169.35 L449.73,170.31 L449.97,171.27 L450.21,172.24 L450.45,173.20 L450.70,174.16 L450.95,175.12 L451.20,176.08 L451.45,177.04 L451.70,178.00 L451.95,178.96 L452.21,179.91 L452.47,180.87 L452.73,181.83 L452.99,182.78 L453.26,183.74 L453.53,184.69 L453.80,185.65 L454.07,186.60 L454.34,187.55 L454.62,188.51 L454.90,189.46 L455.18,190.41 L455.46,191.36 L455.75,192.31 L456.03,193.26 L456.32,194.20 L456.62,195.15 L456.91,196.10 L457.21,197.04 L457.51,197.99 L457.81,198.93 L458.11,199.88 L458.42,200.82 L458.73,201.76 L459.04,202.70 L459.36,203.64 L459.67,204.58 L459.99,205.52 L460.32,206.46 L460.64,207.40 L460.97,208.33 L461.31,209.27 L461.65,210.20 L462.00,211.14 L462.35,212.07 L462.70,213.00 L463.07,213.93 L463.43,214.86 L463.81,215.78 L464.19,216.71 L464.58,217.64 L464.98,218.56 L465.39,219.48 L465.81,220.40 L466.23,221.32 L466.66,222.24 L467.11,223.16 L467.56,224.07 L468.03,224.99 L468.50,225.90 L468.99,226.81 L469.49,227.71 L470.00,228.60 L470.52,229.49 L471.06,230.36 L471.62,231.22 L472.19,232.06 L472.78,232.88 L473.39,233.68 L474.01,234.45 L474.66,235.20 L475.33,235.91 L476.01,236.60 L476.72,237.25 L477.46,237.86 L478.22,238.44 L479.00,238.97 L479.80,239.46 L480.63,239.92 L481.48,240.33 L482.34,240.71 L483.23,241.05 L484.13,241.34 L485.05,241.60 L485.98,241.83 L486.93,242.01 L487.88,242.16 L488.85,242.27 L489.83,242.35 L490.82,242.39 L491.82,242.39 L492.82,242.37 L493.83,242.33 L494.84,242.26 L495.86,242.18 L496.87,242.09 L497.89,241.98 L498.91,241.87 L499.93,241.76 L500.95,241.65 L501.96,241.55 L502.97,241.45 L503.98,241.37 L504.98,241.29 L505.98,241.23 L506.98,241.18 L507.97,241.15 L508.96,241.14 L509.94,241.15 L510.92,241.18 L511.89,241.24 L512.85,241.32 L513.81,241.43 L514.76,241.57 L515.70,241.74 L516.64,241.95 L517.57,242.18 L518.50,242.44 L519.42,242.73 L520.33,243.04 L521.24,243.38 L522.15,243.73 L523.05,244.10 L523.96,244.49 L524.86,244.89 L525.75,245.30 L526.65,245.73 L527.55,246.17 L528.44,246.61 L529.33,247.06 L530.23,247.52 L531.12,247.99 L532.01,248.46 L532.91,248.94 L533.80,249.42 L534.69,249.90 L535.58,250.39 L536.48,250.87 L537.37,251.36 L538.26,251.84 L539.16,252.32 L540.06,252.79 L540.96,253.27 L541.86,253.73 L542.76,254.19 L543.66,254.64 L544.57,255.08 L545.48,255.52 L546.39,255.94 L547.30,256.35 L548.22,256.74 L549.14,257.13 L550.06,257.50 L550.99,257.85 L551.92,258.19 L552.85,258.50 L553.79,258.80 L554.73,259.08 L555.68,259.34 L556.63,259.58 L557.58,259.80 L558.54,260.00 L559.50,260.18 L560.47,260.34 L561.44,260.48 L562.41,260.61 L563.38,260.71 L564.36,260.80 L565.34,260.88 L566.32,260.93 L567.31,260.98 L568.29,261.00 L569.28,261.01 L570.27,261.01 L571.26,261.00 L572.25,260.97 L573.24,260.92 L574.24,260.87 L575.23,260.80 L576.23,260.72 L577.22,260.63 L578.22,260.53 L579.21,260.42 L580.21,260.30 L581.20,260.17 L582.20,260.03 L583.19,259.89 L584.18,259.73 L585.18,259.57 L586.17,259.40 L587.15,259.22 L588.14,259.04 L589.13,258.85 L590.11,258.66 L591.09,258.46 L592.07,258.26 L593.05,258.05 L594.03,257.84 L595.01,257.63 L595.99,257.42 L596.96,257.20 L597.94,256.98 L598.91,256.76 L599.89,256.54 L600.86,256.31 L601.83,256.09 L602.80,255.87 L603.77,255.65 L604.74,255.43 L605.72,255.21 L606.69,255.00 L607.66,254.78 L608.63,254.57 L609.59,254.37 L610.56,254.16 L611.53,253.97 L612.50,253.77 L613.47,253.59 L614.44,253.40 L615.42,253.23 L616.39,253.06 L617.36,252.90 L618.33,252.74 L619.30,252.59 L620.28,252.46 L621.25,252.33 L622.22,252.21 L623.20,252.09 L624.18,251.99 L625.15,251.90 L626.13,251.83 L627.11,251.76 L628.09,251.70 L629.07,251.66 L630.06,251.63 L631.04,251.61 L632.03,251.61 L633.01,251.62 L634.00,251.64 L634.99,251.68 L635.99,251.74 L636.98,251.81 L637.98,251.90 L638.97,252.00 L639.97,252.12 L640.97,252.26 L641.98,252.42 L642.98,252.60 L643.99,252.79 L645.00,253.01 L646.02,253.24 L647.03,253.49 L648.05,253.77 L649.07,254.07 L650.09,254.38" fill="none" stroke="#1a1a1a" stroke-width="1.60" stroke-linejoin="round" stroke-linecap="butt"/>
<path d="M397.40,8.70 H681.00 V291.60 H397.40 Z" fill="none" stroke="#111" stroke-width="1.70"/>
<line x1="397.40" y1="291.60" x2="397.40" y2="297.60" stroke="#111" stroke-width="1.70"/>
<text x="397.40" y="315.60" font-size="16.00" text-anchor="middle" fill="#1a1a1a" >0.0</text>
<line x1="448.90" y1="291.60" x2="448.90" y2="297.60" stroke="#111" stroke-width="1.70"/>
<text x="448.90" y="315.60" font-size="16.00" text-anchor="middle" fill="#1a1a1a" >0.1</text>
<line x1="500.40" y1="291.60" x2="500.40" y2="297.60" stroke="#111" stroke-width="1.70"/>
<text x="500.40" y="315.60" font-size="16.00" text-anchor="middle" fill="#1a1a1a" >0.2</text>
<line x1="551.90" y1="291.60" x2="551.90" y2="297.60" stroke="#111" stroke-width="1.70"/>
<text x="551.90" y="315.60" font-size="16.00" text-anchor="middle" fill="#1a1a1a" >0.3</text>
<line x1="603.40" y1="291.60" x2="603.40" y2="297.60" stroke="#111" stroke-width="1.70"/>
<text x="603.40" y="315.60" font-size="16.00" text-anchor="middle" fill="#1a1a1a" >0.4</text>
<line x1="654.90" y1="291.60" x2="654.90" y2="297.60" stroke="#111" stroke-width="1.70"/>
<text x="654.90" y="315.60" font-size="16.00" text-anchor="middle" fill="#1a1a1a" >0.5</text>
<line x1="391.40" y1="260.45" x2="397.40" y2="260.45" stroke="#111" stroke-width="1.70"/>
<text x="389.50" y="266.65" font-size="16.00" text-anchor="end" fill="#1a1a1a" >0</text>
<line x1="391.40" y1="197.49" x2="397.40" y2="197.49" stroke="#111" stroke-width="1.70"/>
<text x="389.50" y="203.69" font-size="16.00" text-anchor="end" fill="#1a1a1a" textLength="34.40" lengthAdjust="spacingAndGlyphs" >1000</text>
<line x1="391.40" y1="134.52" x2="397.40" y2="134.52" stroke="#111" stroke-width="1.70"/>
<text x="389.50" y="140.72" font-size="16.00" text-anchor="end" fill="#1a1a1a" textLength="34.40" lengthAdjust="spacingAndGlyphs" >2000</text>
<line x1="391.40" y1="71.56" x2="397.40" y2="71.56" stroke="#111" stroke-width="1.70"/>
<text x="389.50" y="77.76" font-size="16.00" text-anchor="end" fill="#1a1a1a" textLength="34.40" lengthAdjust="spacingAndGlyphs" >3000</text>
<line x1="391.40" y1="8.60" x2="397.40" y2="8.60" stroke="#111" stroke-width="1.70"/>
<text x="389.50" y="14.80" font-size="16.00" text-anchor="end" fill="#1a1a1a" textLength="34.40" lengthAdjust="spacingAndGlyphs" >4000</text>
<rect x="436.60" y="15.00" width="24.40" height="22.30" fill="none" stroke="#111" stroke-width="1.50"/>
<text x="448.80" y="31.70" font-size="15.00" text-anchor="middle" fill="#1a1a1a" >(b)</text>
<line x1="560.70" y1="29.80" x2="576.00" y2="29.80" stroke="#1a1a1a" stroke-width="1.60"/>
<text x="585.00" y="34.70" font-size="13.50" text-anchor="start" fill="#1a1a1a" textLength="81.00" lengthAdjust="spacingAndGlyphs" >Doping (0%)</text>
<line x1="560.70" y1="48.85" x2="576.00" y2="48.85" stroke="#c62d33" stroke-width="1.60"/>
<text x="585.00" y="53.75" font-size="13.50" text-anchor="start" fill="#1a1a1a" textLength="81.00" lengthAdjust="spacingAndGlyphs" >Doping (6%)</text>
<line x1="560.70" y1="67.90" x2="576.00" y2="67.90" stroke="#3fd13f" stroke-width="1.60"/>
<text x="585.00" y="72.80" font-size="13.50" text-anchor="start" fill="#1a1a1a" textLength="86.80" lengthAdjust="spacingAndGlyphs" >Doping (11%)</text>
<line x1="560.70" y1="86.95" x2="576.00" y2="86.95" stroke="#1c1ca8" stroke-width="1.60"/>
<text x="585.00" y="91.85" font-size="13.50" text-anchor="start" fill="#1a1a1a" textLength="86.80" lengthAdjust="spacingAndGlyphs" >Doping (17%)</text>
<text x="539.00" y="338.00" font-size="16.00" text-anchor="middle" fill="#1a1a1a" textLength="183.50" lengthAdjust="spacingAndGlyphs" >Scattering Vector, Q (1/Å)</text>
<text x="0" y="0" font-size="16.50" text-anchor="middle" fill="#1a1a1a" textLength="106.30" lengthAdjust="spacingAndGlyphs" transform="translate(347.00,147.10) rotate(-90)">Intensity, I (Q)</text>
</svg></body></html>
